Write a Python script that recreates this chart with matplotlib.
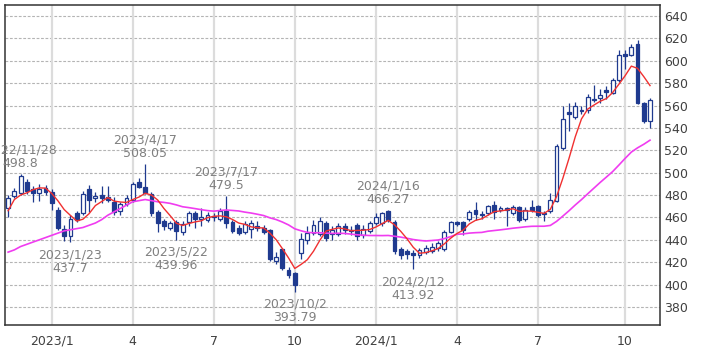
import numpy as np
import pandas as pd
import matplotlib
matplotlib.use("Agg")
import matplotlib.pyplot as plt

# weekly candles, one per Monday
weeks = pd.date_range("2022-11-14", periods=104, freq="W-MON")

opens = [468, 479, 482, 492, 485, 482, 486, 483, 467, 450,
         443, 464, 464, 485, 477, 480, 478, 474, 466, 472,
         476, 492, 487, 481, 465, 457, 451, 456, 447, 456,
         464, 459, 458, 461, 459, 466, 456, 451, 447, 450,
         452, 451, 449, 421, 432, 413, 410, 428, 440, 446,
         445, 455, 445, 445, 452, 448, 453, 444, 448, 455,
         455, 466, 456, 432, 430, 428, 426, 429, 430, 433,
         432, 447, 456, 456, 459, 467, 462, 464, 471, 467,
         468, 464, 469, 459, 469, 470, 463, 466, 475, 522,
         554, 550, 555, 556, 565, 567, 574, 571, 583, 606,
         605, 615, 562, 546]
highs = [480, 486, 498.8, 494, 488, 490, 489, 485, 469, 453,
         462, 466, 484, 489, 483, 488, 488, 478, 474, 480,
         492, 495, 508.05, 483, 467, 459, 457, 458, 457, 466,
         466, 468, 465, 464, 468, 479.5, 458, 453, 457, 458,
         457, 453, 450, 429, 433, 416, 411, 446, 452, 458,
         460, 457, 452, 455, 455, 452, 455, 453, 457, 464,
         465, 466.27, 458, 434, 432, 431, 433, 435, 437, 439,
         449, 457, 457, 457, 467, 474, 466, 471, 475, 470,
         469, 471, 470, 469, 476, 471, 466, 482, 526, 560,
         562, 563, 560, 570, 578, 575, 577, 585, 610, 610,
         615, 618.5, 563, 567]
lows = [460, 477, 480, 481, 474, 475, 480, 467, 449, 439,
        437.7, 456, 462, 465, 474, 473, 474, 462, 462, 470,
        474, 486, 481, 461, 447, 449, 449, 439.96, 444, 452,
        451, 452, 456, 457, 457, 451, 446, 444, 445, 442,
        448, 445, 421, 418, 413, 406, 393.79, 423, 436, 444,
        443, 439, 440, 443, 445, 444, 440, 442, 446, 453,
        452, 456, 427, 423, 423, 413.92, 424, 427, 428, 430,
        430, 446, 452, 444, 457, 458, 459, 462, 459, 465,
        452, 462, 456, 457, 465, 460, 457, 464, 474, 520,
        537, 548, 552, 553, 563, 562, 566, 570, 581, 593,
        604, 561, 544, 540]
closes = [477, 484, 497, 484, 482, 485, 483, 473, 451, 443,
          459, 458, 481, 476, 479, 477, 476, 465, 472, 477,
          490, 487, 482, 464, 455, 452, 455, 448, 454, 464,
          459, 460, 462, 460, 466, 455, 448, 446, 454, 455,
          451, 447, 423, 425, 415, 409, 400, 441, 446, 453,
          457, 442, 449, 452, 449, 449, 443, 450, 455, 460,
          464, 458, 430, 426, 427, 426, 431, 433, 434, 437,
          447, 456, 454, 449, 465, 463, 463, 470, 465, 468,
          467, 469, 458, 467, 467, 462, 464, 476, 524, 548,
          552, 560, 556, 568, 566, 569, 572, 583, 605, 604,
          612, 562, 546, 565]

ma_short_head = [466, 476, 480, 482]
ma_long_head = [429, 431, 434, 436, 438, 440, 442, 444, 446, 448,
                449, 450, 451, 453, 455, 458, 462, 465, 468, 471,
                474, 475, 476, 475, 474]

tick_months = ["2023-01", "2023-04", "2023-07", "2023-10",
               "2024-01", "2024-04", "2024-07", "2024-10"]
tick_labels = ["2023/1", "4", "7", "10", "2024/1", "4", "7", "10"]

note_dates = ["2022-11-28", "2023-04-17", "2023-07-17", "2024-01-16",
              "2023-01-23", "2023-05-22", "2023-10-02", "2024-02-12"]
note_values = [498.8, 508.05, 479.5, 466.27, 437.7, 439.96, 393.79, 413.92]
note_side = ["high", "high", "high", "high", "low", "low", "low", "low"]

navy = "#1f3a8f"
x = np.arange(len(weeks))
o = np.array(opens); h = np.array(highs); l = np.array(lows); c = np.array(closes)

cs = pd.Series(closes, dtype=float)
ma5 = cs.rolling(5).mean().to_numpy()
ma5[:len(ma_short_head)] = ma_short_head
ma26 = cs.rolling(26).mean().to_numpy()
ma26[:len(ma_long_head)] = ma_long_head

fig = plt.figure(figsize=(7.09, 3.54), dpi=100)
ax = fig.add_axes([5/709, 29/354, 655/709, 320/354])

# grid
for v in range(380, 641, 20):
    ax.axhline(v, color="#b4b4b4", lw=0.8, ls=(0, (2.5, 1.5)), zorder=0)
tick_pos = [int(np.argmax((weeks.year == int(m[:4])) & (weeks.month == int(m[5:]))))
            for m in tick_months]
for p in tick_pos:
    ax.axvline(p, color="#dcdcdc", lw=1.6, zorder=0)

# candles
up = c >= o
ax.vlines(x, l, h, color=navy, lw=0.9, zorder=2)
body_lo = np.minimum(o, c)
body_h = np.maximum(np.abs(c - o), 0.8)
ax.bar(x[up], body_h[up], bottom=body_lo[up], width=0.62, color="white",
       edgecolor=navy, lw=0.9, zorder=3)
ax.bar(x[~up], body_h[~up], bottom=body_lo[~up], width=0.62, color=navy,
       edgecolor=navy, lw=0.9, zorder=3)

ax.plot(x, ma26, color="#f03cf0", lw=1.2, zorder=4)
ax.plot(x, ma5, color="#f03030", lw=1.0, zorder=4)

# high / low notes
for d, v, s in zip(note_dates, note_values, note_side):
    i = int(np.searchsorted(weeks, pd.Timestamp(d), side="right") - 1)
    label = pd.Timestamp(d).strftime("%Y/%-m/%-d") + "\n" + f"{v}"
    if s == "high":
        ax.annotate(label, (i, v), xytext=(0, 4), textcoords="offset pixels",
                    ha="center", va="bottom", fontsize=9, color="#808080",
                    linespacing=1.05, annotation_clip=False, zorder=5)
    else:
        ax.annotate(label, (i, v), xytext=(0, -6), textcoords="offset pixels",
                    ha="center", va="top", fontsize=9, color="#808080",
                    linespacing=1.05, annotation_clip=False, zorder=5)

ax.set_xlim(-0.5, 104.6)
ax.set_ylim(363.9, 649.8)
ax.set_xticks(tick_pos)
ax.set_xticklabels(tick_labels)
ax.set_yticks(range(380, 641, 20))
ax.yaxis.tick_right()
ax.tick_params(axis="both", length=0, labelsize=9, colors="#404040")
ax.tick_params(axis="x", pad=7)
ax.tick_params(axis="y", pad=3)
for sp in ax.spines.values():
    sp.set_color("#333333")
    sp.set_linewidth(1.1)

fig.savefig("out.png", dpi=100)
